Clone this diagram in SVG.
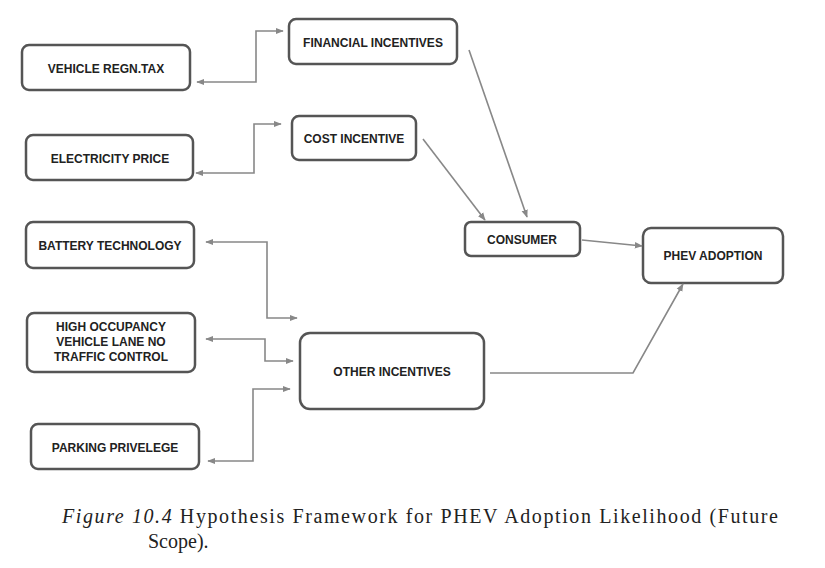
<svg xmlns="http://www.w3.org/2000/svg" width="825" height="568" viewBox="0 0 825 568">
<defs>
<marker id="a" viewBox="0 0 10 10" refX="9" refY="5" markerWidth="8" markerHeight="8" orient="auto-start-reverse" markerUnits="userSpaceOnUse"><path d="M0,1 L10,5 L0,9 Z" fill="#888"/></marker>
<style>
.n rect{fill:#fff;stroke:#555;stroke-width:2.5}
.n text{font-family:"Liberation Sans",Arial,sans-serif;font-weight:bold;font-size:12px;fill:#222;text-anchor:middle}
.c path{fill:none;stroke:#888;stroke-width:1.6}
.cap{font-family:"Liberation Serif","Times New Roman",serif;font-size:20px;fill:#222}
</style>
</defs>
<rect width="825" height="568" fill="#fff"/>
<g id="vehicle" class="n"><rect x="22" y="45" width="168" height="45" rx="7"/><text x="106" y="73">VEHICLE REGN.TAX</text></g>
<g id="financial" class="n"><rect x="289" y="19" width="168" height="45" rx="7"/><text x="373" y="47">FINANCIAL INCENTIVES</text></g>
<g id="electricity" class="n"><rect x="26" y="135" width="167" height="45" rx="7"/><text x="110" y="163">ELECTRICITY PRICE</text></g>
<g id="cost" class="n"><rect x="292" y="116" width="124" height="44" rx="7"/><text x="354" y="143">COST INCENTIVE</text></g>
<g id="battery" class="n"><rect x="26" y="222" width="168" height="46" rx="7"/><text x="110" y="250">BATTERY TECHNOLOGY</text></g>
<g id="consumer" class="n"><rect x="465" y="222" width="115" height="34" rx="6"/><text x="522" y="244">CONSUMER</text></g>
<g id="phev" class="n"><rect x="643" y="228" width="140" height="55" rx="8"/><text x="713" y="260">PHEV ADOPTION</text></g>
<g id="hov" class="n"><rect x="27" y="313" width="168" height="59" rx="7"/><text x="111" y="331">HIGH OCCUPANCY</text><text x="111" y="346">VEHICLE LANE NO</text><text x="111" y="361">TRAFFIC CONTROL</text></g>
<g id="other" class="n"><rect x="300" y="333" width="184" height="76" rx="10"/><text x="392" y="376">OTHER INCENTIVES</text></g>
<g id="parking" class="n"><rect x="31" y="424" width="168" height="45" rx="7"/><text x="115" y="452">PARKING PRIVELEGE</text></g>
<g id="connectors" class="c">
<path d="M197,82 H256 V31 H283" marker-start="url(#a)" marker-end="url(#a)"/>
<path d="M196,173 H254 V124 H281" marker-start="url(#a)" marker-end="url(#a)"/>
<path d="M206,242 H267 V318 H297" marker-start="url(#a)" marker-end="url(#a)"/>
<path d="M206,339 H265 V361 H293" marker-start="url(#a)" marker-end="url(#a)"/>
<path d="M208,461 H253 V389 H290" marker-start="url(#a)" marker-end="url(#a)"/>
<path d="M469,50 L527,217" marker-end="url(#a)"/>
<path d="M423,139 L485,220" marker-end="url(#a)"/>
<path d="M582,240 L642,246" marker-end="url(#a)"/>
<path d="M490,373 H633 L683,284" marker-end="url(#a)"/>
</g>
<text class="cap" x="62" y="523" textLength="716" lengthAdjust="spacing"><tspan font-style="italic">Figure 10.4</tspan> Hypothesis Framework for PHEV Adoption Likelihood (Future</text>
<text class="cap" x="148" y="548">Scope).</text>
</svg>
